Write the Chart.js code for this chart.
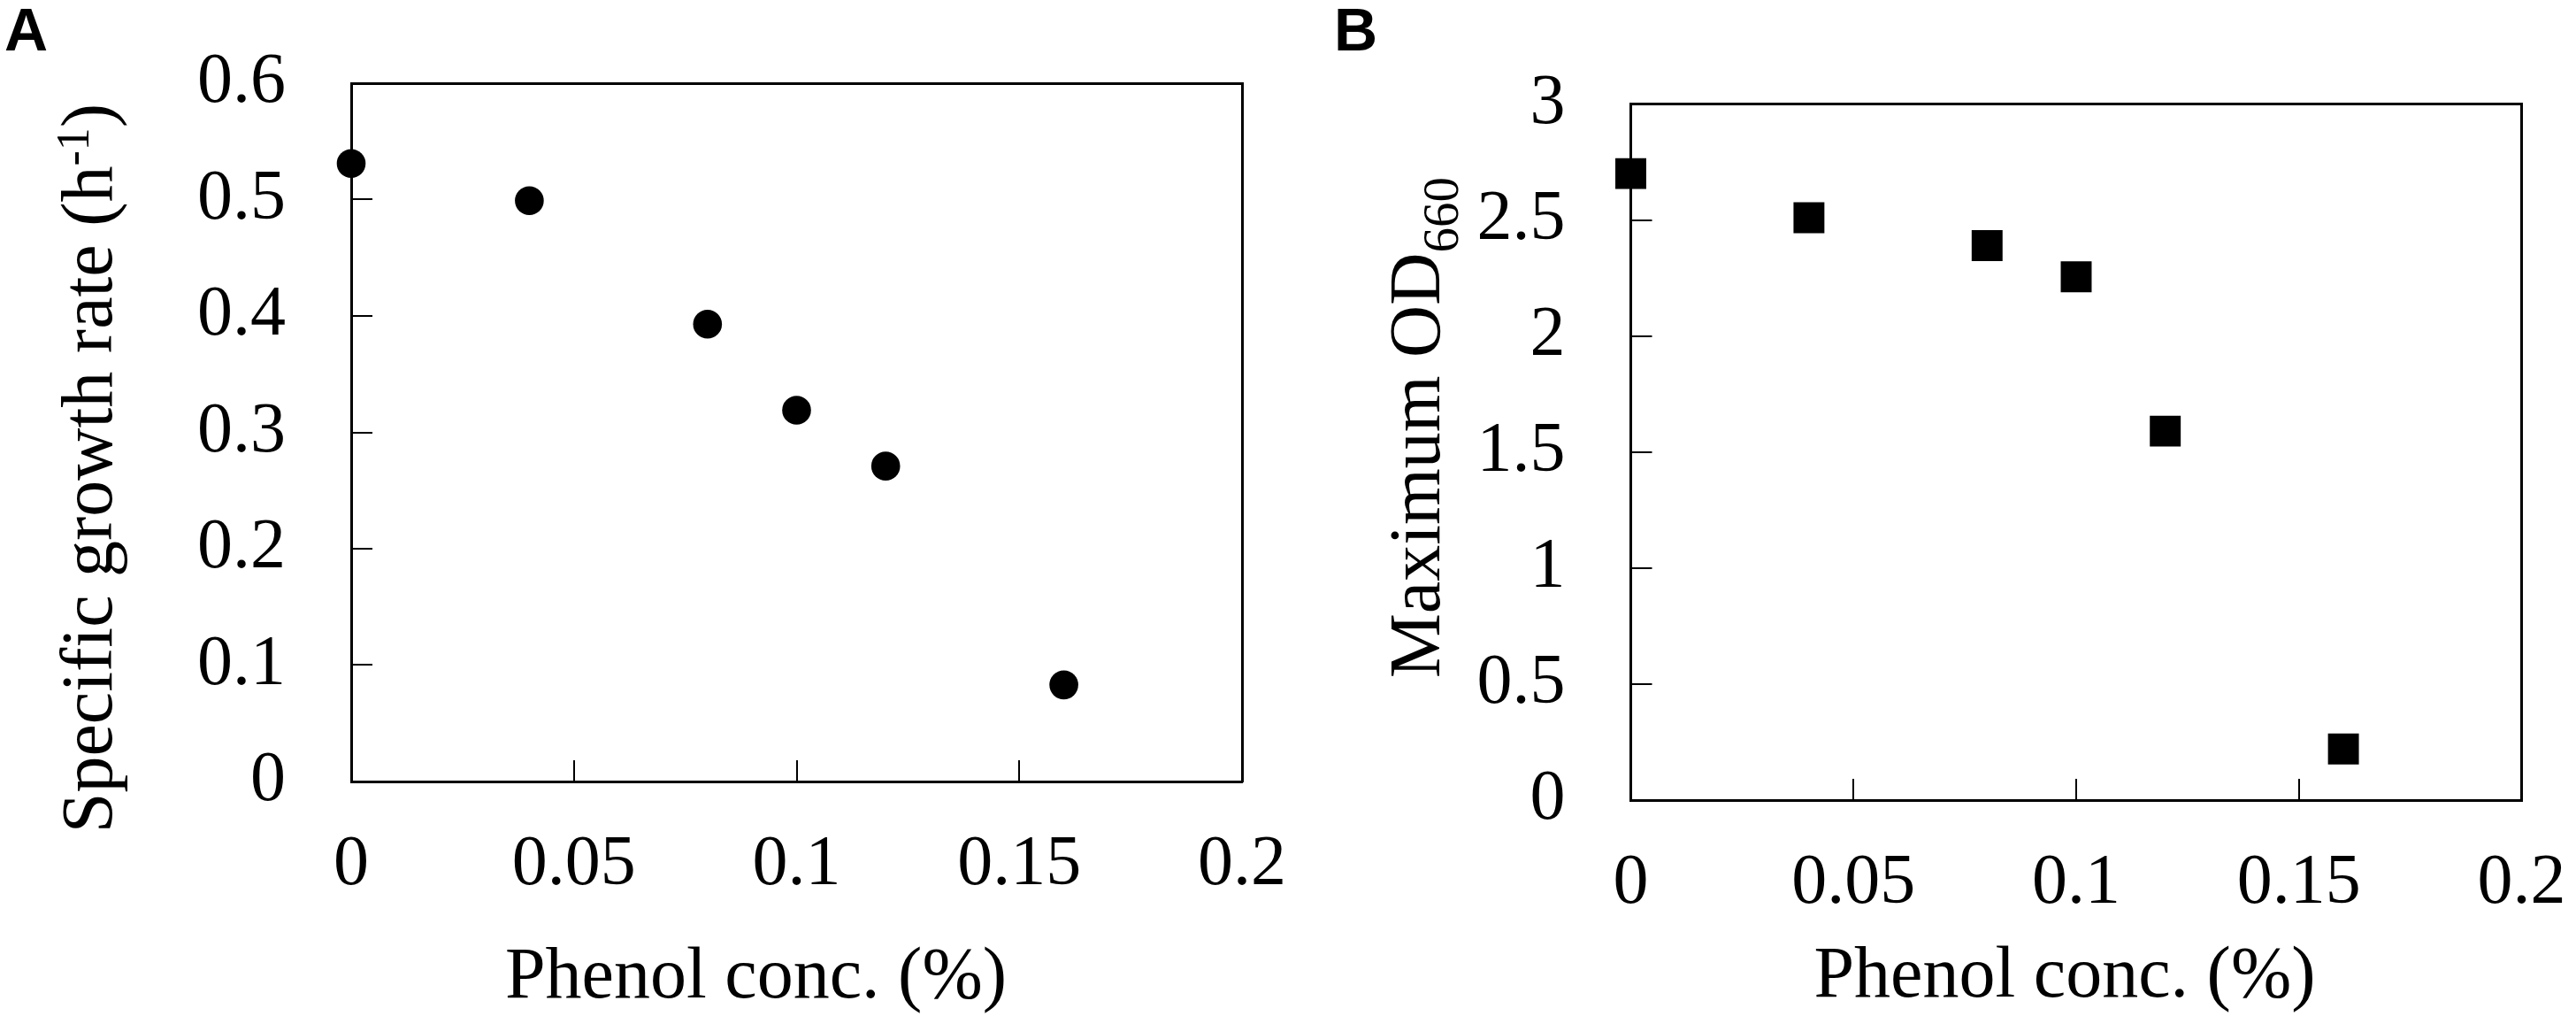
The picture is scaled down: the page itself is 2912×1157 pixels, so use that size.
<!DOCTYPE html>
<html>
<head>
<meta charset="utf-8">
<script src="https://cdn.jsdelivr.net/npm/chart.js@4.4.1/dist/chart.umd.min.js"></script>
<style>
  html, body { margin: 0; padding: 0; background: #fff; }
  body { width: 2912px; height: 1157px; position: relative; overflow: hidden; }
  canvas { position: absolute; top: 0; }
  #cA { left: 0; }
  #cB { left: 1456px; }
</style>
</head>
<body>
<canvas id="cA" width="1456" height="1157"></canvas>
<canvas id="cB" width="1456" height="1157"></canvas>
<script>
// ---- data ----
const phenolConc = [0, 0.04, 0.08, 0.10, 0.12, 0.16];
const growthRate = [0.531, 0.499, 0.393, 0.319, 0.271, 0.083];
const maxOD660   = [2.70, 2.51, 2.39, 2.255, 1.59, 0.22];

const xTicks  = [0, 0.05, 0.1, 0.15, 0.2];
const yTicksA = [0, 0.1, 0.2, 0.3, 0.4, 0.5, 0.6];
const yTicksB = [0, 0.5, 1, 1.5, 2, 2.5, 3];

// ---- helpers ----
const SERIF = '"Liberation Serif", "Times New Roman", serif';
const SANS = '"Liberation Sans", Arial, sans-serif';

function makeTextPlugin(items) {
  return {
    id: 'richText',
    afterDraw(chart) {
      const ctx = chart.ctx;
      ctx.save();
      ctx.fillStyle = '#000';
      ctx.textAlign = 'left';
      ctx.textBaseline = 'alphabetic';
      for (const item of items) {
        ctx.save();
        ctx.translate(item.x, item.y);
        if (item.rotate) ctx.rotate(item.rotate);
        let total = 0;
        for (const p of item.parts) { ctx.font = p.font; total += ctx.measureText(p.text).width; }
        let x = item.align === 'left' ? 0 : -total / 2;
        for (const p of item.parts) {
          ctx.font = p.font;
          ctx.fillText(p.text, x, p.dy || 0);
          x += ctx.measureText(p.text).width;
        }
        ctx.restore();
      }
      ctx.restore();
    }
  };
}

function fixSize(prop, val) {
  return function (scale) {
    scale[prop] = val;
    scale.paddingLeft = 0; scale.paddingRight = 0;
    scale.paddingTop = 0; scale.paddingBottom = 0;
  };
}

function setTicks(arr) {
  return function (scale) { scale.ticks = arr.map(v => ({ value: v })); };
}

function buildChart(canvasId, opts) {
  const tickFont = { family: SERIF, size: 80, lineHeight: 1 };
  return new Chart(document.getElementById(canvasId), {
    type: 'scatter',
    data: {
      datasets: [{
        data: phenolConc.map((x, i) => ({ x: x, y: opts.values[i] })),
        pointStyle: opts.pointStyle,
        pointRadius: opts.radius,
        pointHoverRadius: opts.radius,
        backgroundColor: '#000',
        borderColor: '#000',
        borderWidth: 0,
        clip: false
      }]
    },
    options: {
      responsive: false,
      devicePixelRatio: 1,
      animation: false,
      events: [],
      layout: { padding: opts.padding },
      plugins: { legend: { display: false }, tooltip: { enabled: false } },
      scales: {
        x: {
          type: 'linear', position: 'bottom', min: 0, max: 0.2,
          afterBuildTicks: setTicks(xTicks),
          afterFit: fixSize('height', opts.xHeight),
          ticks: { font: tickFont, color: '#000', padding: 79, maxRotation: 0, autoSkip: false,
                   callback: v => String(v) },
          grid: { display: true, drawOnChartArea: false, drawTicks: true, tickLength: -24,
                  color: '#000', lineWidth: 2 },
          border: { display: true, color: '#000', width: 3 }
        },
        y: {
          type: 'linear', position: 'left', min: opts.yMin, max: opts.yMax,
          afterBuildTicks: setTicks(opts.yTicks),
          afterFit: fixSize('width', opts.yWidth),
          ticks: { font: tickFont, color: '#000', padding: 98, autoSkip: false,
                   callback: v => String(v) },
          grid: { display: true, drawOnChartArea: false, drawTicks: true, tickLength: -24,
                  color: '#000', lineWidth: 2 },
          border: { display: true, color: '#000', width: 3 }
        },
        x2: {
          type: 'linear', position: 'top', min: 0, max: 0.2,
          afterFit: fixSize('height', 0),
          ticks: { display: false },
          grid: { display: false },
          border: { display: true, color: '#000', width: 3 }
        },
        y2: {
          type: 'linear', position: 'right', min: opts.yMin, max: opts.yMax,
          afterFit: fixSize('width', 0),
          ticks: { display: false },
          grid: { display: false },
          border: { display: true, color: '#000', width: 3 }
        }
      }
    },
    plugins: [makeTextPlugin(opts.texts)]
  });
}

buildChart('cA', {
  values: growthRate, pointStyle: 'circle', radius: 16.3,
  yMin: 0, yMax: 0.6, yTicks: yTicksA,
  padding: { top: 94, right: 52, left: 0, bottom: 0 },
  yWidth: 397, xHeight: 274,
  texts: [
    { x: 5, y: 57, align: 'left', parts: [{ text: 'A', font: 'bold 68px ' + SANS }] },
    { x: 854.5, y: 1127, parts: [{ text: 'Phenol conc. (%)', font: '82px ' + SERIF }] },
    { x: 126, y: 529, rotate: -Math.PI / 2, parts: [
      { text: 'Specific growth rate (h', font: '82px ' + SERIF },
      { text: '-1', font: '52px ' + SERIF, dy: -26 },
      { text: ')', font: '82px ' + SERIF }
    ] }
  ]
});

buildChart('cB', {
  values: maxOD660, pointStyle: 'rect', radius: 24.7,
  yMin: 0, yMax: 3, yTicks: yTicksB,
  padding: { top: 117.5, right: 61.5, left: 0, bottom: 0 },
  yWidth: 387.5, xHeight: 253,
  texts: [
    { x: 52, y: 57, align: 'left', parts: [{ text: 'B', font: 'bold 68px ' + SANS }] },
    { x: 878, y: 1126, parts: [{ text: 'Phenol conc. (%)', font: '82px ' + SERIF }] },
    { x: 171, y: 483, rotate: -Math.PI / 2, parts: [
      { text: 'Maximum OD', font: '82px ' + SERIF },
      { text: '660', font: '57px ' + SERIF, dy: 21 }
    ] }
  ]
});
</script>
</body>
</html>
